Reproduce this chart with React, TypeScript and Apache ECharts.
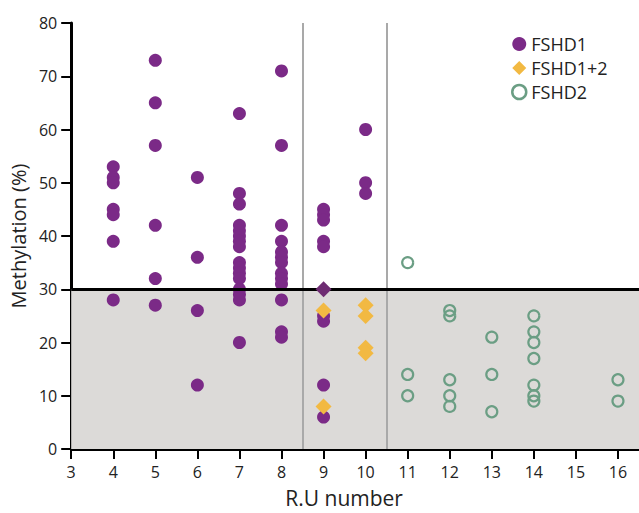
import React, { useEffect, useRef } from "react";
import * as echarts from "echarts";

const xTicks = [3, 4, 5, 6, 7, 8, 9, 10, 11, 12, 13, 14, 15, 16];
const yTicks = [0, 10, 20, 30, 40, 50, 60, 70, 80];

const fshd1: [number, number][] = [
  [4, 53], [4, 51], [4, 50], [4, 45], [4, 44], [4, 39], [4, 28],
  [5, 73], [5, 65], [5, 57], [5, 42], [5, 32], [5, 27],
  [6, 51], [6, 36], [6, 26], [6, 12],
  [7, 63], [7, 48], [7, 46], [7, 42], [7, 41], [7, 40], [7, 39], [7, 38], [7, 35], [7, 34], [7, 33], [7, 32], [7, 30], [7, 29], [7, 28], [7, 20],
  [8, 71], [8, 57], [8, 42], [8, 39], [8, 37], [8, 36], [8, 35], [8, 33], [8, 32], [8, 31], [8, 28], [8, 22], [8, 21],
  [9, 45], [9, 44], [9, 43], [9, 39], [9, 38], [9, 25], [9, 24], [9, 12], [9, 6],
  [10, 60], [10, 50], [10, 48],
];

const fshd12: [number, number][] = [
  [9, 26], [9, 8], [10, 27], [10, 25], [10, 19], [10, 18],
];

const overlap: [number, number][] = [[9, 30]];

const fshd2: [number, number][] = [
  [11, 35], [11, 14], [11, 10],
  [12, 26], [12, 25], [12, 13], [12, 10], [12, 8],
  [13, 21], [13, 14], [13, 7],
  [14, 25], [14, 22], [14, 20], [14, 17], [14, 12], [14, 10], [14, 9],
  [16, 13], [16, 9],
];

const threshold = 30;
const dividers = [8.5, 10.5];

const PURPLE = "#7b2a87";
const YELLOW = "#f2b942";
const GREEN = "#6b9e84";
const FONT = "Open Sans";

export default function App() {
  const ref = useRef<HTMLDivElement>(null);
  useEffect(() => {
    document.body.style.margin = "0";
    const chart = echarts.init(ref.current!, null, { renderer: "svg" });
    chart.setOption({
      animation: false,
      textStyle: { fontFamily: FONT },
      grid: { left: 70, top: 23, right: 0, bottom: 60, containLabel: false },
      legend: {
        orient: "vertical",
        left: 506,
        top: 30,
        itemGap: 6,
        itemWidth: 14,
        itemHeight: 14,
        textStyle: { fontSize: 18, lineHeight: 18, color: "#222", fontFamily: FONT },
        data: [
          { name: "FSHD1", icon: "circle", itemStyle: { color: PURPLE } },
          { name: "FSHD1+2", icon: "diamond", itemStyle: { color: YELLOW } },
          { name: "FSHD2", icon: "circle", itemStyle: { color: "rgba(0,0,0,0)", borderColor: GREEN, borderWidth: 2.5 } },
        ],
      },
      xAxis: {
        type: "value",
        min: 3,
        max: 16.5,
        interval: 1,
        name: "R.U number",
        nameLocation: "middle",
        nameGap: 38,
        nameTextStyle: { fontSize: 21, color: "#222", fontFamily: FONT, padding: [0, 22, 0, 0] },
        splitLine: { show: false },
        axisLine: { lineStyle: { color: "#000", width: 3 } },
        axisTick: { show: true, length: 10, lineStyle: { color: "#000", width: 2 }, customValues: xTicks },
        axisLabel: { fontSize: 16, color: "#222", margin: 15, customValues: xTicks, fontFamily: FONT },
      },
      yAxis: {
        type: "value",
        min: 0,
        max: 80,
        interval: 10,
        name: "Methylation (%)",
        nameLocation: "middle",
        nameGap: 41,
        nameTextStyle: { fontSize: 20, color: "#222", fontFamily: FONT },
        splitLine: { show: false },
        axisLine: { show: true, lineStyle: { color: "#000", width: 3 } },
        axisTick: { show: true, length: 10, lineStyle: { color: "#000", width: 2 }, customValues: yTicks },
        axisLabel: { fontSize: 16, color: "#222", margin: 14, customValues: yTicks, fontFamily: FONT },
      },
      series: [
        {
          type: "scatter",
          name: "bg",
          data: [],
          z: 1,
          silent: true,
          markArea: {
            silent: true,
            itemStyle: { color: "#dcdad8" },
            data: [[{ coord: [3, 0] }, { coord: [16.5, threshold] }]],
          },
          markLine: {
            silent: true,
            symbol: "none",
            label: { show: false },
            data: [
              ...dividers.map((d) => ({
                xAxis: d,
                lineStyle: { color: "#a9a9a9", width: 2, type: "solid" },
              })),
              { yAxis: threshold, lineStyle: { color: "#000", width: 3, type: "solid" } },
            ],
          },
        },
        {
          type: "scatter",
          name: "FSHD1",
          data: fshd1,
          symbol: "circle",
          symbolSize: 13,
          itemStyle: { color: PURPLE, opacity: 1 },
          z: 3,
        },
        {
          type: "scatter",
          name: "FSHD1+2",
          data: fshd12,
          symbol: "diamond",
          symbolSize: 16,
          itemStyle: { color: YELLOW, opacity: 1 },
          z: 4,
        },
        {
          type: "scatter",
          name: "overlap",
          data: overlap,
          symbol: "diamond",
          symbolSize: 16,
          itemStyle: { color: "#6e2c72", opacity: 1 },
          z: 5,
        },
        {
          type: "scatter",
          name: "FSHD2",
          data: fshd2,
          symbol: "circle",
          symbolSize: 11,
          itemStyle: { color: "rgba(0,0,0,0)", borderColor: GREEN, borderWidth: 2.2, opacity: 1 },
          z: 3,
        },
      ],
    });
    return () => chart.dispose();
  }, []);
  return <div ref={ref} style={{ width: 639, height: 513 }} />;
}
